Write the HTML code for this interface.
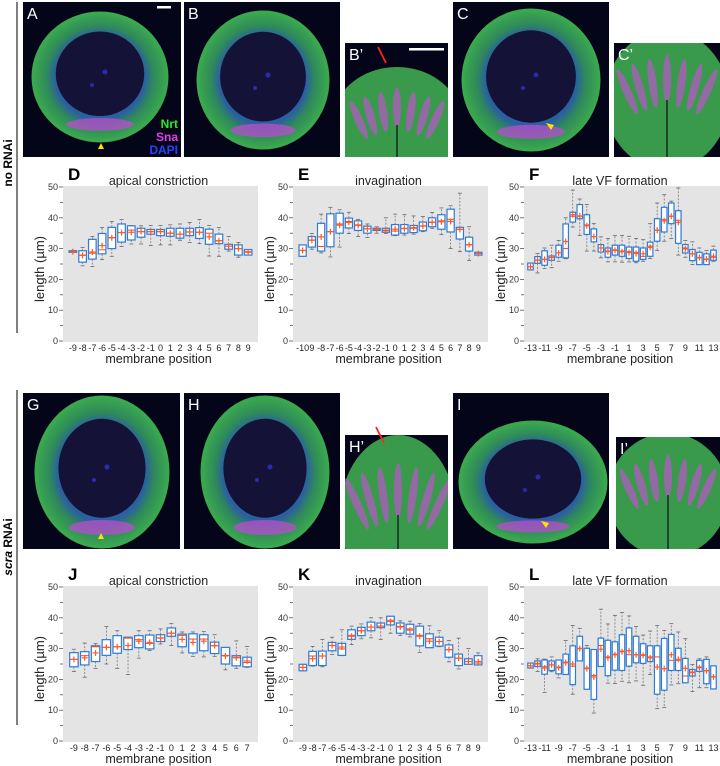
<!DOCTYPE html>
<html><head><meta charset="utf-8"><style>
html,body{margin:0;padding:0;background:#fff;}
svg{display:block;}
text{font-family:"Liberation Sans Narrow","Liberation Sans",sans-serif;}
</style></head><body>
<svg id="fig" width="720" height="766" viewBox="0 0 720 766" xmlns="http://www.w3.org/2000/svg">
<defs>
<radialGradient id="ringG" cx="50%" cy="50%" r="50%">
<stop offset="66%" stop-color="#2a5fa0"/><stop offset="80%" stop-color="#2f8a5a"/><stop offset="100%" stop-color="#3aa84e"/>
</radialGradient>
</defs>
<g>
<line x1="17" y1="2" x2="17" y2="333" stroke="#000" stroke-width="1"/>
<text x="12" y="163" transform="rotate(-90 12 163)" text-anchor="middle" font-size="12" font-weight="bold" style="font-family:'Liberation Sans',sans-serif">no RNAi</text>
<line x1="17" y1="390" x2="17" y2="725" stroke="#000" stroke-width="1"/>
<text x="12" y="547" transform="rotate(-90 12 547)" text-anchor="middle" font-size="12" font-weight="bold" style="font-family:'Liberation Sans',sans-serif"><tspan font-style="italic">scra</tspan> RNAi</text>
</g>
<g id="images"></g>
<g id="charts"></g>
</svg>
<script>
// ---------- Chart D: apical constriction (no RNAi)
const d_positions=[-9,-8,-7,-6,-5,-4,-3,-2,-1,0,1,2,3,4,5,6,7,8,9];
const d_q1=[28.8,25.6,26.6,28.3,30,32.1,32.8,33.7,34.7,34.2,34,33.4,34.2,33.3,31.4,31.6,29.8,27.9,27.9];
const d_q3=[29.3,29.3,33,34.9,36.9,38,37.4,36.6,36.2,36.2,36.6,36.6,36.6,36.8,36.3,34.7,31.4,31.2,29.7];
const d_min=[28.8,24.4,24.2,26.4,27.5,30.7,31.5,31.5,31,31.2,31.2,32.7,32,31.6,27.6,27.5,29.2,27.2,27.9];
const d_max=[29.3,30.4,33.9,36.8,38.8,39.4,37.5,37.4,37.5,37.5,37.7,38,38.5,39.4,37.5,36.8,33.9,32,29.7];
const d_median=[29,27.9,28.5,29.6,33.6,35.2,36,35.5,35.5,35.5,35,34.7,35.4,35.3,35,32.5,30.8,30,29];
const d_mean=[29,27.8,28.9,31,33.5,35.2,35.3,35.5,35.5,35.5,35,34.7,35.4,35.3,33.8,32.6,30.8,30,28.8];
const d_ticks=["-9","-8","-7","-6","-5","-4","-3","-2","-1","0","1","2","3","4","5","6","7","8","9"];
// ---------- Chart E: invagination (no RNAi)
const e_positions=[-10,-9,-8,-7,-6,-5,-4,-3,-2,-1,0,1,2,3,4,5,6,7,8,9];
const e_q1=[27.5,30.5,29.2,30.6,35,36.7,35.9,35,35.9,35.3,34.4,35,35.2,35.8,37.1,36.3,35.4,33.1,29.2,27.9];
const e_q3=[31.2,33.9,38.2,41.3,41.5,39.9,39,37.3,36.6,36.6,37.8,37.8,37.5,38.6,40,41,42.8,36.9,33.7,28.8];
const e_min=[27.5,29.8,28.6,27.3,30.5,34.9,33.9,33.6,35,34.9,34.2,34.4,34.7,35.5,36.6,34.6,30,29,26.1,27.9];
const e_max=[31.2,34.9,41.2,43.4,42.6,41.8,39.5,38,37.1,40,41.2,41,40.6,40.4,41.7,43.2,43.9,48,37.1,28.8];
const e_median=[29.4,32.8,30.7,35.5,38,38.8,37.7,36.4,36.2,35.8,35.7,36.6,36.6,37.4,38.6,39,39.5,36.3,31.2,28.4];
const e_mean=[29.4,32.7,33.8,35.5,37.6,38.5,37.5,36.4,36.2,36,36.3,36.5,36.8,37.3,38.5,38.7,38.8,36.2,31.3,28.4];
const e_ticks=["-10","9","-8","-7","-6","-5","-4","-3","-2","-1","0","1","2","3","4","5","6","7","8","9"];
// ---------- Chart F: late VF formation (no RNAi)
const f_positions=[-13,-12,-11,-10,-9,-8,-7,-6,-5,-4,-3,-2,-1,0,1,2,3,4,5,6,7,8,9,10,11,12,13];
const f_q1=[23.1,25.2,24.6,26.2,27.2,27,38.6,39.7,34.6,32.2,28.9,27.2,27.9,27.5,26.8,25.9,26.5,27.5,32.4,35.4,38.1,31.7,28.6,26.1,24.8,24.8,26.2];
const f_q3=[25.3,27.4,29.3,27.6,31.1,38,41.8,44.3,41,36.4,31.3,30.2,31.1,31.1,30.5,30.5,30.2,32.1,39.7,43.4,44.8,42.3,31.3,29.7,28.8,28.3,29.5];
const f_min=[23.1,22.1,23.5,23.8,25.9,26.7,37,34.3,29.2,29.2,27,25.7,25.7,25.6,25.7,25.4,25.9,26.8,29.4,32.4,33.3,27.9,27.2,24.8,24.8,24.8,25.9];
const f_max=[25.3,28.4,30.2,31.1,32.6,40,49,46.1,44.3,38.1,33.8,33.3,34.2,34.3,34,33.3,32.9,38.1,44.8,47.5,45.4,49.7,32.6,32.2,30.2,29.4,30.8];
const f_median=[24.1,26.3,26.5,27.1,28.6,30,40.5,40.5,37.7,33.9,30.2,29.2,29.6,29.2,29,28.8,27.4,30.8,35.9,39.4,40.5,39.2,30.2,28.3,27,26.5,27.2];
const f_mean=[24.1,26.2,26.5,27.1,28.6,32.3,41,40.6,37.4,33.9,30.2,29,29.4,29,28.7,28.4,28.3,30.4,36,39,40.5,38.5,29.9,28.3,27.1,26.6,27.5];
const f_ticks=["-13","","-11","","-9","","-7","","-5","","-3","","-1","","1","","3","","5","","7","","9","","11","","13"];
// ---------- Chart J: apical constriction (scra RNAi)
const j_positions=[-9,-8,-7,-6,-5,-4,-3,-2,-1,0,1,2,3,4,5,6,7];
const j_q1=[24.1,24.7,25.8,27.8,28.5,29.7,30.3,29.9,32.3,34,30.6,28.6,29.3,28.4,25,24.4,24.1];
const j_q3=[28.7,29,30.9,32.9,34.2,33.7,34.2,34.4,34.5,36.7,34.7,34.8,34.5,32.1,30.4,27.7,27.2];
const j_min=[22.6,20.7,23.6,25,23.6,21.6,26.9,29.4,31.5,31,28.6,27.5,27.3,27.5,23.1,23.6,23.9];
const j_max=[29.8,31.8,31.6,37.2,35.8,33.7,35.8,35.8,36.4,38.1,35.4,35.4,35.5,34.5,30.4,32.5,30.7];
const j_median=[26.5,27.7,30.6,30.4,30.6,33.4,32.9,31.7,33.5,35,34.3,33.1,33.1,30.9,27.8,27.2,25.5];
const j_mean=[26.5,27,28.6,30.4,30.6,31,32.4,32,33.4,35,33,32,32.4,31,27.6,27,26];
const j_ticks=["-9","-8","-7","-6","-5","-4","-3","-2","-1","0","1","2","3","4","5","6","7"];
// ---------- Chart K: invagination (scra RNAi)
const k_positions=[-9,-8,-7,-6,-5,-4,-3,-2,-1,0,1,2,3,4,5,6,7,8,9];
const k_q1=[22.8,24.5,24.5,29.3,27.8,33,34.2,35.8,36.8,37.7,35,34.7,30.9,30.3,30.8,27.2,24.5,24.9,24.7];
const k_q3=[24.9,29.1,29.2,32,31.7,36.1,36.9,38.6,38.3,40.5,38.3,37.9,37.3,34.8,33.7,31.2,28.2,26.7,27.7];
const k_min=[22.8,24.3,24.1,28.1,27.7,31.3,33.2,33.5,33,35,34.3,33.8,28.7,30.3,30.6,25.7,23.4,24.9,24.7];
const k_max=[24.9,30.7,33,33.7,36.1,37.3,38,40,40,40.5,39,38.9,38.1,37.4,35.8,32.6,33.4,30,28.6];
const k_median=[23.9,27.6,27.6,31,29.9,34.3,35.8,37,37.3,39.2,37.2,36.4,34.3,33.2,32.3,29.6,26.9,25.8,25.3];
const k_mean=[23.9,26.7,27.6,31,30.5,34,35.8,37,37.3,38.8,37,36,34,32.4,32.3,29.7,26.9,25.8,25.8];
const k_ticks=["-9","-8","-7","-6","-5","-4","-3","-2","-1","0","1","2","3","4","5","6","7","8","9"];
// ---------- Chart L: late VF formation (scra RNAi)
const l_positions=[-13,-12,-11,-10,-9,-8,-7,-6,-5,-4,-3,-2,-1,0,1,2,3,4,5,6,7,8,9,10,11,12,13];
const l_q1=[23.7,24.2,21.7,22.9,21.8,21.6,18.3,26,16.8,13.5,24.2,21.2,23,22.9,24.3,25.4,25.2,25.8,15.2,16.5,22.9,22.9,18.9,21.1,22.6,18.6,16.9];
const l_q3=[25.3,26,26.3,26,26.3,28.2,30.9,34,30.1,29.7,33.4,32.7,32.2,34.5,36.7,34,31.6,30.9,30.9,33.3,34.6,30.1,26.8,23.2,26.2,26.5,24.4];
const l_min=[23.7,22.6,15.8,22.5,20.5,21.6,15.2,26,16.8,9.1,24.2,18.8,18.7,19.4,18.9,19.5,18.1,21.6,10.5,10.9,18.2,18.6,18.9,16.1,17.3,17.3,16.9];
const l_max=[25.3,26.7,26.6,27.3,26.3,32.6,37.5,36.6,31,29.7,42.8,38,40.8,41.7,40.6,37.2,34.4,35.7,37.5,35.9,38.1,35.4,33.2,24.8,26.7,27.3,24.4];
const l_median=[24.4,25.2,24.1,24.7,24,25.6,24.3,30.1,23.7,21.3,31,27.3,28.2,29.2,28,28,28,27.3,27.3,23.5,26.2,26.2,21.1,22.4,24,22.9,20.9];
const l_mean=[24.4,25,23.7,24.7,23.8,25.4,25,30,23.5,20.8,29.8,27,28,29,29.3,28,27.8,27,24,23.5,28,26.5,23.6,22.2,23.8,22.8,20.8];
const l_ticks=["-13","","-11","","-9","","-7","","-5","","-3","","-1","","1","","3","","5","","7","","9","","11","","13"];

const NS="http://www.w3.org/2000/svg";
function mk(tag,attrs,parent){const el=document.createElementNS(NS,tag);for(const k in attrs)el.setAttribute(k,attrs[k]);if(parent)parent.appendChild(el);return el;}

function drawChart(cfg,positions,q1,q3,mn,mx,med,mean,ticks){
  const root=document.getElementById('charts');
  const g=mk('g',{},root);
  
  
  const L=cfg.x,W=cfg.w,T=cfg.top,B=cfg.bottom;
  const y=v=>B-(v/50)*(B-T);
  const n=positions.length;
  const step=(W-2*cfg.pad)/n;
  const xc=i=>L+cfg.pad+(i+0.5)*step;
  const bg=mk('rect',{x:L,y:T-1,width:W,height:B-T+2,fill:'#e4e4e4'},g);
  
  
  for(let v=0;v<=50;v+=5){
    const major=v%10===0;
    const t=mk('line',{x1:L-(major?4:3),x2:L,y1:y(v),y2:y(v),stroke:'#555','stroke-width':0.8},g);
    
    
    if(major){
      const tl=mk('text',{x:L-5,y:y(v)+3,'font-size':9,'text-anchor':'end',fill:'#333'},g);
      tl.textContent=String(v);
      
      
    }
  }
  const bw=step*0.78;
  for(let i=0;i<n;i++){
    const cx=xc(i);
    const bx=mk('g',{},g);
    
    
    const dash={stroke:'#777','stroke-width':0.8,'stroke-dasharray':'2,1.5'};
    if(mx[i]>q3[i]+0.05) mk('line',Object.assign({x1:cx,x2:cx,y1:y(q3[i]),y2:y(mx[i])},dash),bx);
    if(mn[i]<q1[i]-0.05) mk('line',Object.assign({x1:cx,x2:cx,y1:y(q1[i]),y2:y(mn[i])},dash),bx);
    mk('line',{x1:cx-2,x2:cx+2,y1:y(mx[i]),y2:y(mx[i]),stroke:'#666','stroke-width':0.8},bx);
    mk('line',{x1:cx-2,x2:cx+2,y1:y(mn[i]),y2:y(mn[i]),stroke:'#666','stroke-width':0.8},bx);
    mk('rect',{x:cx-bw/2,y:y(q3[i]),width:bw,height:Math.max(1,y(q1[i])-y(q3[i])),fill:'#fff',stroke:'#2f7bd6','stroke-width':1.2},bx);
    mk('line',{x1:cx-bw/2,x2:cx+bw/2,y1:y(med[i]),y2:y(med[i]),stroke:'#f04a1e','stroke-width':1},bx);
    mk('line',{x1:cx-3,x2:cx+3,y1:y(mean[i]),y2:y(mean[i]),stroke:'#ff5a28','stroke-width':1.2},bx);
    mk('line',{x1:cx,x2:cx,y1:y(mean[i])-3,y2:y(mean[i])+3,stroke:'#ff5a28','stroke-width':1.2},bx);
    if(ticks[i]!==''){
      const xl=mk('text',{x:cx,y:B+10,'font-size':9,'text-anchor':'middle',fill:'#222'},g);
      xl.textContent=ticks[i];
      
      
    }
  }
  const lt=mk('text',{x:L+5,y:T-7,'font-size':17,'font-weight':'bold',fill:'#000'},g);
  lt.textContent=cfg.letter;
  
  
  const tt=mk('text',{x:L+W/2-2,y:T-2,'font-size':12.5,'text-anchor':'middle',fill:'#222'},g);
  tt.textContent=cfg.title;
  
  
  const xt=mk('text',{x:L+W/2-2,y:B+22,'font-size':12.5,'text-anchor':'middle',fill:'#222'},g);
  xt.textContent='membrane position';
  
  
  const ym=(T+B)/2+5;
  const yt=mk('text',{x:L-19,y:ym,'font-size':13,'text-anchor':'middle',fill:'#222',transform:'rotate(-90 '+(L-19)+' '+ym+')'},g);
  yt.textContent='length (µm)';
  
  
}
drawChart({name:'chart-d-apical-constriction',letter:'D',title:'apical constriction',x:63,w:195,top:187,bottom:341,pad:5},d_positions,d_q1,d_q3,d_min,d_max,d_median,d_mean,d_ticks);
drawChart({name:'chart-e-invagination',letter:'E',title:'invagination',x:293,w:195,top:187,bottom:341,pad:5},e_positions,e_q1,e_q3,e_min,e_max,e_median,e_mean,e_ticks);
drawChart({name:'chart-f-late-vf',letter:'F',title:'late VF formation',x:524,w:196,top:187,bottom:341,pad:3},f_positions,f_q1,f_q3,f_min,f_max,f_median,f_mean,f_ticks);
drawChart({name:'chart-j-apical-constriction',letter:'J',title:'apical constriction',x:63,w:195,top:587,bottom:741,pad:5.5},j_positions,j_q1,j_q3,j_min,j_max,j_median,j_mean,j_ticks);
drawChart({name:'chart-k-invagination',letter:'K',title:'invagination',x:293,w:195,top:587,bottom:741,pad:5},k_positions,k_q1,k_q3,k_min,k_max,k_median,k_mean,k_ticks);
drawChart({name:'chart-l-late-vf',letter:'L',title:'late VF formation',x:524,w:196,top:587,bottom:741,pad:3},l_positions,l_q1,l_q3,l_min,l_max,l_median,l_mean,l_ticks);

// ---------- micrographs (decorative approximations)
const imgRoot=document.getElementById('images');
function panel(name,label,x,y,w,h,kind,e){
  const g=mk('g',{},imgRoot);
  
  
  mk('rect',{x:x,y:y,width:w,height:h,fill:'#05051a'},g);
  const cp='clip-'+name;
  const c=mk('clipPath',{id:cp},g);mk('rect',{x:x,y:y,width:w,height:h},c);
  const inner=mk('g',{'clip-path':'url(#'+cp+')'},g);
  if(kind==='embryo'){
    mk('ellipse',{cx:e[0],cy:e[1],rx:e[2],ry:e[3],fill:'url(#ringG)'},inner);
    mk('ellipse',{cx:e[0],cy:e[1],rx:e[2],ry:e[3],fill:'none',stroke:'#3aa84e','stroke-width':3},inner);
    mk('ellipse',{cx:e[0],cy:e[1]+e[3]*0.74,rx:e[2]*0.5,ry:e[3]*0.1,fill:'#b050c8',opacity:0.8},inner);
    mk('ellipse',{cx:e[0],cy:e[1]-e[3]*0.05,rx:e[2]*0.66,ry:e[3]*0.66,fill:'#151238'},inner);
    mk('circle',{cx:e[0]+5,cy:e[1]-5,r:2.5,fill:'#2a2ab0'},inner);
    mk('circle',{cx:e[0]-8,cy:e[1]+8,r:2,fill:'#2a2ab0'},inner);
  } else {
    mk('ellipse',{cx:e[0],cy:e[1],rx:e[2],ry:e[3],fill:'#3a9a4c'},inner);
    for(let k=-3;k<=3;k++){
      mk('ellipse',{cx:e[0]+k*12,cy:e[1]-e[3]*0.3+Math.abs(k)*4,rx:4,ry:e[3]*0.35,fill:'#b25ac0',opacity:0.75,transform:'rotate('+(k*8)+' '+(e[0]+k*12)+' '+e[1]+')'},inner);
    }
    mk('line',{x1:e[0],y1:e[1],x2:e[0],y2:y+h,stroke:'#1c4a28','stroke-width':2},inner);
  }
  const t=mk('text',{x:x+4,y:y+17,'font-size':16,fill:'#fff',style:"font-family:'Liberation Sans',sans-serif"},g);
  t.textContent=label;
  
  
  return g;
}
panel('image-a','A',23,2,158,155,'embryo',[100,77,67,64]);
panel('image-b','B',184,2,156,155,'embryo',[263,80,65,68]);
panel('image-b-prime','B\u2019',345,43,103,114,'tissue',[397,125,66,58]);
panel('image-c','C',453,2,156,155,'embryo',[531,80,68,70]);
panel('image-c-prime','C\u2019',614,43,106,114,'tissue',[667,100,62,70]);
panel('image-g','G',23,393,157,156,'embryo',[102,472,66,75]);
panel('image-h','H',184,393,156,156,'embryo',[265,472,63,75]);
panel('image-h-prime','H\u2019',345,435,103,114,'tissue',[398,515,58,80]);
panel('image-i','I',453,393,156,156,'embryo',[533,482,73,60]);
panel('image-i-prime','I\u2019',616,437,104,112,'tissue',[668,495,60,62]);
function txt(x,y,s,fill,name){const t=mk('text',{x:x,y:y,'font-size':12,'font-weight':'bold','text-anchor':'end',fill:fill,style:"font-family:'Liberation Sans',sans-serif"},imgRoot);t.textContent=s;

}
txt(178,128,'Nrt','#22ee22','legend-nrt');
txt(178,141,'Sna','#e040e8','legend-sna');
txt(178,154,'DAPI','#2244ff','legend-dapi');
const sb1=mk('rect',{x:157,y:6,width:14,height:2.5,fill:'#fff'},imgRoot);


const sb2=mk('rect',{x:409,y:48,width:35,height:2.5,fill:'#fff'},imgRoot);


[[101,143],[101,533]].forEach(p=>{const a=mk('polygon',{points:(p[0]-3)+','+(p[1]+6)+' '+(p[0]+3)+','+(p[1]+6)+' '+p[0]+','+p[1],fill:'#ffe000'},imgRoot);

});
[[378,47,386,63],[376,427,384,443]].forEach(p=>{const a=mk('line',{x1:p[0],y1:p[1],x2:p[2],y2:p[3],stroke:'#ff2020','stroke-width':1.8},imgRoot);

});
[[551,130],[546,528]].forEach(p=>{const a=mk('polygon',{points:p[0]+','+p[1]+' '+(p[0]-5)+','+(p[1]-7)+' '+(p[0]+3)+','+(p[1]-5)},imgRoot);a.setAttribute('fill','#ffe000');

});
</script>
</body></html>
